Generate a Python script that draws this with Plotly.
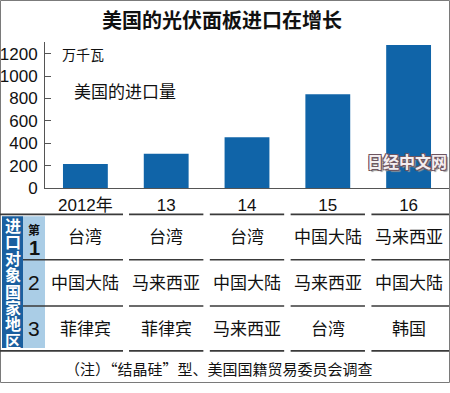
import plotly.graph_objects as go

# ---- data ----
years = ["2012年", "13", "14", "15", "16"]
imports = [215, 307, 455, 838, 1278]
y_ticks = [0, 200, 400, 600, 800, 1000, 1200]
rank1 = ["台湾", "台湾", "台湾", "中国大陆", "马来西亚"]
rank2 = ["中国大陆", "马来西亚", "中国大陆", "马来西亚", "中国大陆"]
rank3 = ["菲律宾", "菲律宾", "马来西亚", "台湾", "韩国"]
row_labels = ["1", "2", "3"]
header_text = "进口对象国家地区"
title_text = "美国的光伏面板进口在增长"
unit_text = "万千瓦"
series_text = "美国的进口量"
note_text = "（注）“结晶硅”型、美国国籍贸易委员会调查"
watermark = "日经中文网"

W, H = 450, 393
def px(x):
    return x / W
def py(y):
    return 1 - y / H

BAR = "#1064a8"
DARK = "#1a5f9f"
LIGHT = "#aacde6"
LINE = "#3a3a3a"
CJK = "Noto Sans CJK SC, sans-serif"
NUM = "Liberation Sans Narrow, Liberation Sans, Noto Sans CJK SC, sans-serif"

fig = go.Figure(go.Bar(x=years, y=imports, marker=dict(color=BAR, line=dict(width=0)),
                       width=0.555, hoverinfo="skip"))

shapes = []
ann = []

# outer border
shapes.append(dict(type="rect", xref="paper", yref="paper", x0=px(0.5), x1=px(449.5),
                   y0=py(392.5), y1=py(0.5), line=dict(color="#7a7a7a", width=1)))

# header blocks
shapes.append(dict(type="rect", xref="paper", yref="paper", x0=px(2), x1=px(23),
                   y0=py(357), y1=py(222), fillcolor=DARK, line=dict(width=0), layer="below"))
shapes.append(dict(type="rect", xref="paper", yref="paper", x0=px(23), x1=px(45),
                   y0=py(357), y1=py(222), fillcolor=LIGHT, line=dict(width=0), layer="below"))

# table horizontal lines (segmented per column)
line_rows = [(220, 0), (266.5, 23), (314, 23), (360, 0)]
for ypos, first_start in line_rows:
    for i in range(len(years)):
        if i == 0:
            shapes.append(dict(type="line", xref="paper", yref="paper",
                               x0=px(first_start), x1=px(123), y0=py(ypos), y1=py(ypos),
                               line=dict(color=LINE, width=1.6)))
        else:
            x1 = i + 0.46 if i < len(years) - 1 else i + 0.5
            shapes.append(dict(type="line", xref="x", yref="paper",
                               x0=i - 0.46, x1=x1, y0=py(ypos), y1=py(ypos),
                               line=dict(color=LINE, width=1.6)))

# header vertical text
n = len(header_text)
for k, ch in enumerate(header_text):
    yc = 222.5 + (357 - 222.5) / n * (k + 0.5)
    ann.append(dict(text="<b>" + ch + "</b>", xref="paper", yref="paper", x=px(12.5), y=py(yc),
                    showarrow=False, font=dict(family=CJK, size=16, color="white"),
                    xanchor="center", yanchor="middle"))

# rank numbers
ann.append(dict(text="<b>第</b>", xref="paper", yref="paper", x=px(34), y=py(235),
                showarrow=False, font=dict(family=CJK, size=12, color="#111"), xanchor="center", yanchor="middle"))
ann.append(dict(text="<b>" + row_labels[0] + "</b>", xref="paper", yref="paper", x=px(34), y=py(254),
                showarrow=False, font=dict(family="Liberation Sans, sans-serif", size=20, color="#111"),
                xanchor="center", yanchor="middle"))
for lab, yc in zip(row_labels[1:], [290, 337]):
    ann.append(dict(text=lab, xref="paper", yref="paper", x=px(34), y=py(yc),
                    showarrow=False, font=dict(family="Liberation Sans, sans-serif", size=21, color="#111"),
                    xanchor="center", yanchor="middle"))

# table contents
for row, yc in zip([rank1, rank2, rank3], [242, 289, 336]):
    for i, txt in enumerate(row):
        ann.append(dict(text=txt, xref="x", yref="paper", x=i, y=py(yc),
                        showarrow=False, font=dict(family=CJK, size=17, color="#111"),
                        xanchor="center", yanchor="middle"))

# title, unit, series label, note, watermark
ann.append(dict(text="<b>" + title_text + "</b>", xref="paper", yref="paper", x=px(222), y=py(20),
                showarrow=False, font=dict(family=CJK, size=20, color="#111"), xanchor="center", yanchor="middle"))
ann.append(dict(text=unit_text, xref="paper", yref="paper", x=px(60), y=py(55),
                showarrow=False, font=dict(family=CJK, size=14, color="#111"), xanchor="left", yanchor="middle"))
ann.append(dict(text=series_text, xref="paper", yref="paper", x=px(72), y=py(93),
                showarrow=False, font=dict(family=CJK, size=17, color="#111"), xanchor="left", yanchor="middle"))
ann.append(dict(text=note_text, xref="paper", yref="paper", x=px(219), y=py(378),
                showarrow=False, font=dict(family=CJK, size=15, color="#111"), xanchor="center", yanchor="middle"))
ann.append(dict(text="<b>" + watermark + "</b>", xref="paper", yref="paper", x=px(407), y=py(165),
                showarrow=False,
                font=dict(family=CJK, size=16, color="#f4eef0",
                          shadow="-1px -1px 0 #6e5560, 1px -1px 0 #6e5560, -1px 1px 0 #6e5560, 1px 1px 0 #6e5560, 2px 2px 1px #999"),
                xanchor="center", yanchor="middle"))

fig.update_layout(
    width=W, height=H,
    margin=dict(l=0, r=0, t=0, b=0),
    paper_bgcolor="white", plot_bgcolor="white",
    showlegend=False,
    shapes=shapes, annotations=ann,
    bargap=0.445,
    xaxis=dict(domain=[px(45), px(449)], type="category", range=[-0.5, 4.5], autorange=False,
               showline=True, linecolor="#555", linewidth=1,
               ticks="", showgrid=False, zeroline=False,
               tickfont=dict(family=NUM, size=17, color="#111"), ticklabelstandoff=2),
    yaxis=dict(domain=[py(193), py(43)], range=[0, 1305], autorange=False, tickvals=y_ticks,
               showline=True, linecolor="#555", linewidth=1, ticks="inside", ticklen=6, tickcolor="#555",
               showgrid=False, zeroline=False,
               tickfont=dict(family=NUM, size=17, color="#111"), ticklabelstandoff=3),
)

fig.write_html("out.html", config={"displayModeBar": False, "staticPlot": True},
               post_script="document.body.style.margin='0';document.body.style.padding='0';")
